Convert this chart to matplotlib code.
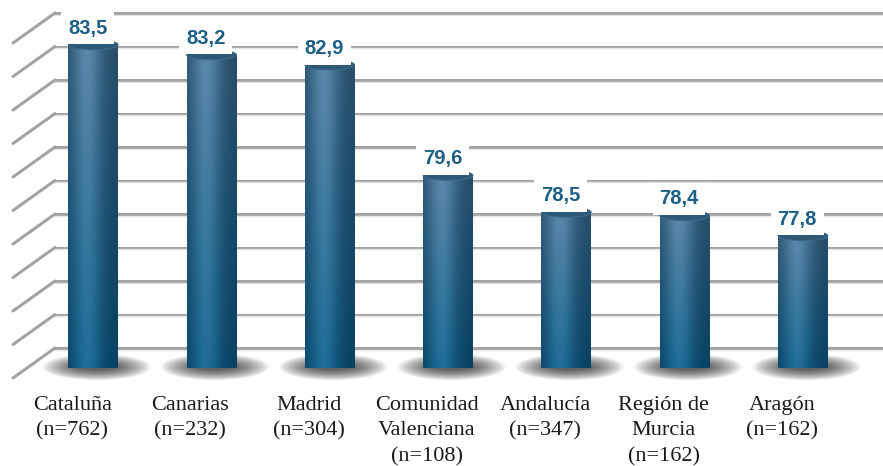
import numpy as np
import matplotlib
matplotlib.use("Agg")
import matplotlib.pyplot as plt
import matplotlib.transforms as mtransforms
from matplotlib.patches import Ellipse, PathPatch
from matplotlib.path import Path
from matplotlib.lines import Line2D
from matplotlib.colors import to_rgb

regiones = ["Cataluña\n(n=762)", "Canarias\n(n=232)", "Madrid\n(n=304)",
            "Comunidad\nValenciana\n(n=108)", "Andalucía\n(n=347)",
            "Región de\nMurcia\n(n=162)", "Aragón\n(n=162)"]
valores = [83.5, 83.2, 82.9, 79.6, 78.5, 78.4, 77.8]
etiquetas = ["83,5", "83,2", "82,9", "79,6", "78,5", "78,4", "77,8"]
y_min, y_max = 74, 84

DPI = 100
fig = plt.figure(figsize=(8.83, 4.66), dpi=DPI)
ax = fig.add_axes([55 / 883, 118 / 466, 828 / 883, 335 / 466])
ax.set_xlim(-0.5, len(valores) - 0.5)
ax.set_ylim(y_min, y_max)
ax.axis("off")

# perspective: the wall is behind, bars sit halfway into the depth
depth = (-42, -30)
bar_tr = ax.transData + mtransforms.ScaledTranslation(
    depth[0] / 2 / DPI, depth[1] / 2 / DPI, fig.dpi_scale_trans)
front_tr = ax.transData + mtransforms.ScaledTranslation(
    depth[0] / DPI, depth[1] / DPI, fig.dpi_scale_trans)
shine_tr = ax.get_yaxis_transform() + mtransforms.ScaledTranslation(
    0, -1.6 / DPI, fig.dpi_scale_trans)

# back wall gridlines + side wall diagonals
for y in range(y_min, y_max + 1):
    ax.axhline(y, color="#a3a3a3", lw=2.2, zorder=0, clip_on=False)
    ax.plot([0, 1], [y, y], color="#e4e4e4", lw=1.0, zorder=0,
            clip_on=False, transform=shine_tr)
    x0, y0 = ax.transData.transform((-0.5, y))
    fig.add_artist(Line2D([x0, x0 + depth[0]], [y0, y0 + depth[1]],
                          transform=mtransforms.IdentityTransform(),
                          color="#a3a3a3", lw=2.2, solid_capstyle="round"))

# cylinder gradient
w = 0.42
eh = 0.3
xs = np.linspace(0, 1, 80)
prof = np.exp(-((xs - 0.38) / 0.33) ** 2)
edge = 0.5 + 0.5 * prof
top_c = np.array(to_rgb("#4f7b9c"))
bot_c = np.array(to_rgb("#12618c"))
dark = np.array(to_rgb("#0b2d45"))
rows = np.linspace(0, 1, 120)[:, None, None]
base = top_c * (1 - rows) + bot_c * rows
base = np.clip(base + 0.10 * (prof[None, :, None] - 0.5), 0, 1)
img = dark * (1 - edge[None, :, None]) + base * edge[None, :, None]

for i, (v, lab) in enumerate(zip(valores, etiquetas)):
    # soft shadow on the floor
    n_sh = 24
    for k in range(n_sh):
        sc = 1 - k / n_sh
        ax.add_patch(Ellipse((i + 0.03, y_min - 0.12), 0.62 * sc + 0.3, 0.65 * sc + 0.15,
                             color="black", alpha=0.035, lw=0, transform=bar_tr,
                             zorder=1, clip_on=False))
    # body with rounded bottom
    t = np.linspace(np.pi, 2 * np.pi, 30)
    verts = [(i - w / 2, v)] + [(i + w / 2 * np.cos(a), y_min + eh / 2 * np.sin(a)) for a in t] + [(i + w / 2, v), (i - w / 2, v)]
    path = Path(verts)
    body = PathPatch(path, fc="none", ec="none", transform=bar_tr)
    ax.add_patch(body)
    im = ax.imshow(img, extent=(i - w / 2, i + w / 2, y_min - eh / 2, v),
                   aspect="auto", transform=bar_tr, zorder=2, clip_on=False,
                   interpolation="bilinear")
    im.set_clip_path(body)
    # top cap
    ax.add_patch(Ellipse((i, v), w, eh, fc="#2f5877", ec="#3d6a8b", lw=0.8,
                         transform=bar_tr, zorder=3, clip_on=False))
    # value label
    ax.annotate(lab, xy=(i, v), xycoords=bar_tr, xytext=(-4, 12),
                textcoords="offset points", ha="center", va="center",
                fontsize=14.5, fontweight="bold", family="Liberation Sans",
                color="#1d5f85", zorder=4,
                bbox=dict(fc="white", ec="none", pad=5))
    # category label (front edge of the floor)
    ax.annotate(regiones[i], xy=(i, y_min), xycoords=front_tr, xytext=(0, -13),
                textcoords="offset points", ha="center", va="top",
                fontsize=16, family="Liberation Serif", color="#1a1a1a",
                linespacing=1.45)

ax.set_xlim(-0.5, len(valores) - 0.5)
ax.set_ylim(y_min, y_max)
fig.savefig("out.png", dpi=DPI)
